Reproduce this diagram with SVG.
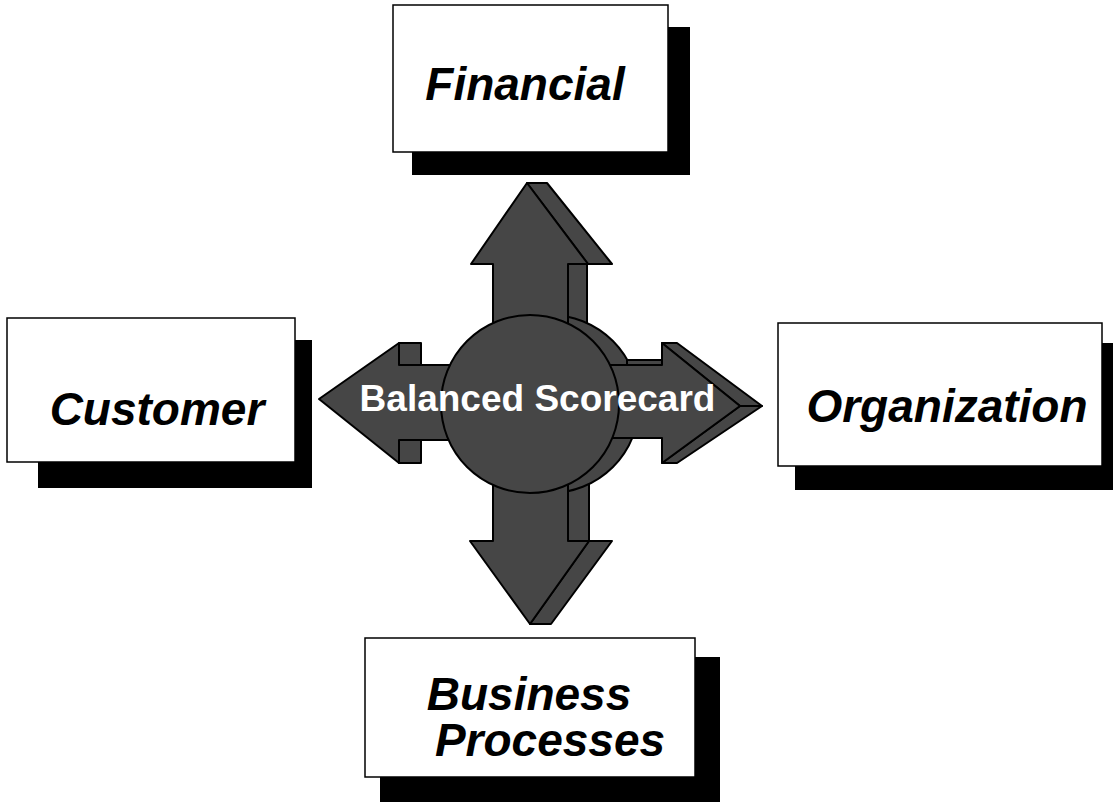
<svg xmlns="http://www.w3.org/2000/svg" width="1113" height="802" viewBox="0 0 1113 802">
  <style>
    .box { fill: #ffffff; stroke: #000000; stroke-width: 1.5; }
    .shadow { fill: #000000; }
    .label { font-family: "Liberation Sans", Arial, sans-serif; font-weight: bold; font-style: italic; font-size: 46px; fill: #000000; text-anchor: middle; }
    .hub { fill: #464646; stroke: #000000; stroke-width: 2; stroke-linejoin: round; }
    .hub-text { font-family: "Liberation Sans", Arial, sans-serif; font-weight: bold; font-size: 37px; fill: #ffffff; text-anchor: middle; }
  </style>
  <rect width="1113" height="802" fill="#ffffff"/>

  <!-- perspective boxes -->
  <g id="financial">
    <rect class="shadow" x="412" y="27" width="278" height="148"/>
    <rect class="box" x="393" y="5" width="275" height="147"/>
    <text class="label" x="525" y="100">Financial</text>
  </g>
  <g id="customer">
    <rect class="shadow" x="38" y="340" width="274" height="148"/>
    <rect class="box" x="7" y="318" width="288" height="144"/>
    <text class="label" x="157" y="425">Customer</text>
  </g>
  <g id="organization">
    <rect class="shadow" x="795" y="343" width="330" height="147"/>
    <rect class="box" x="778" y="323" width="324" height="143"/>
    <text class="label" x="947" y="422">Organization</text>
  </g>
  <g id="business-processes">
    <rect class="shadow" x="380" y="657" width="340" height="150"/>
    <rect class="box" x="365" y="638" width="330" height="139"/>
    <text class="label" x="529" y="710">Business</text>
    <text class="label" x="550" y="756">Processes</text>
  </g>

  <!-- central hub with four extruded arrows -->
  <g id="connectors">
    <!-- shaft sides of the vertical arrows -->
    <rect class="hub" x="568" y="264" width="19" height="70"/>
    <rect class="hub" x="568" y="475" width="21" height="66"/>
    <!-- back face of the hub -->
    <circle class="hub" cx="550" cy="404" r="89"/>
    <!-- right arrow back faces -->
    <path class="hub" d="M627,360 H662 V434 H627 Z"/>
    <polygon class="hub" points="662,343 677,343 762,406 740,406"/>
    <polygon class="hub" points="740,406 762,406 677,463 662,463"/>
    <!-- left arrow back faces -->
    <rect class="hub" x="399" y="343" width="22" height="24"/>
    <rect class="hub" x="399" y="440" width="22" height="23"/>
    <!-- vertical arrow head sides -->
    <polygon class="hub" points="527,183 547,183 612,264 588,264"/>
    <polygon class="hub" points="589,541 612,541 551,624 530,624"/>
    <!-- front faces -->
    <polygon class="hub" points="527,183 588,264 568,264 568,400 493,400 493,264 471,264"/>
    <polygon class="hub" points="493,420 568,420 568,541 589,541 530,624 470,541 493,541"/>
    <polygon class="hub" points="319,399 399,343 399,365 480,365 480,440 399,440 399,463"/>
    <polygon class="hub" points="590,365 662,365 662,343 740,406 662,463 662,438 590,438"/>
    <!-- front face of the hub -->
    <circle class="hub" cx="530" cy="404" r="89"/>
  </g>
  <g id="hub-label">
    <text class="hub-text" x="537.5" y="411">Balanced Scorecard</text>
  </g>
</svg>
